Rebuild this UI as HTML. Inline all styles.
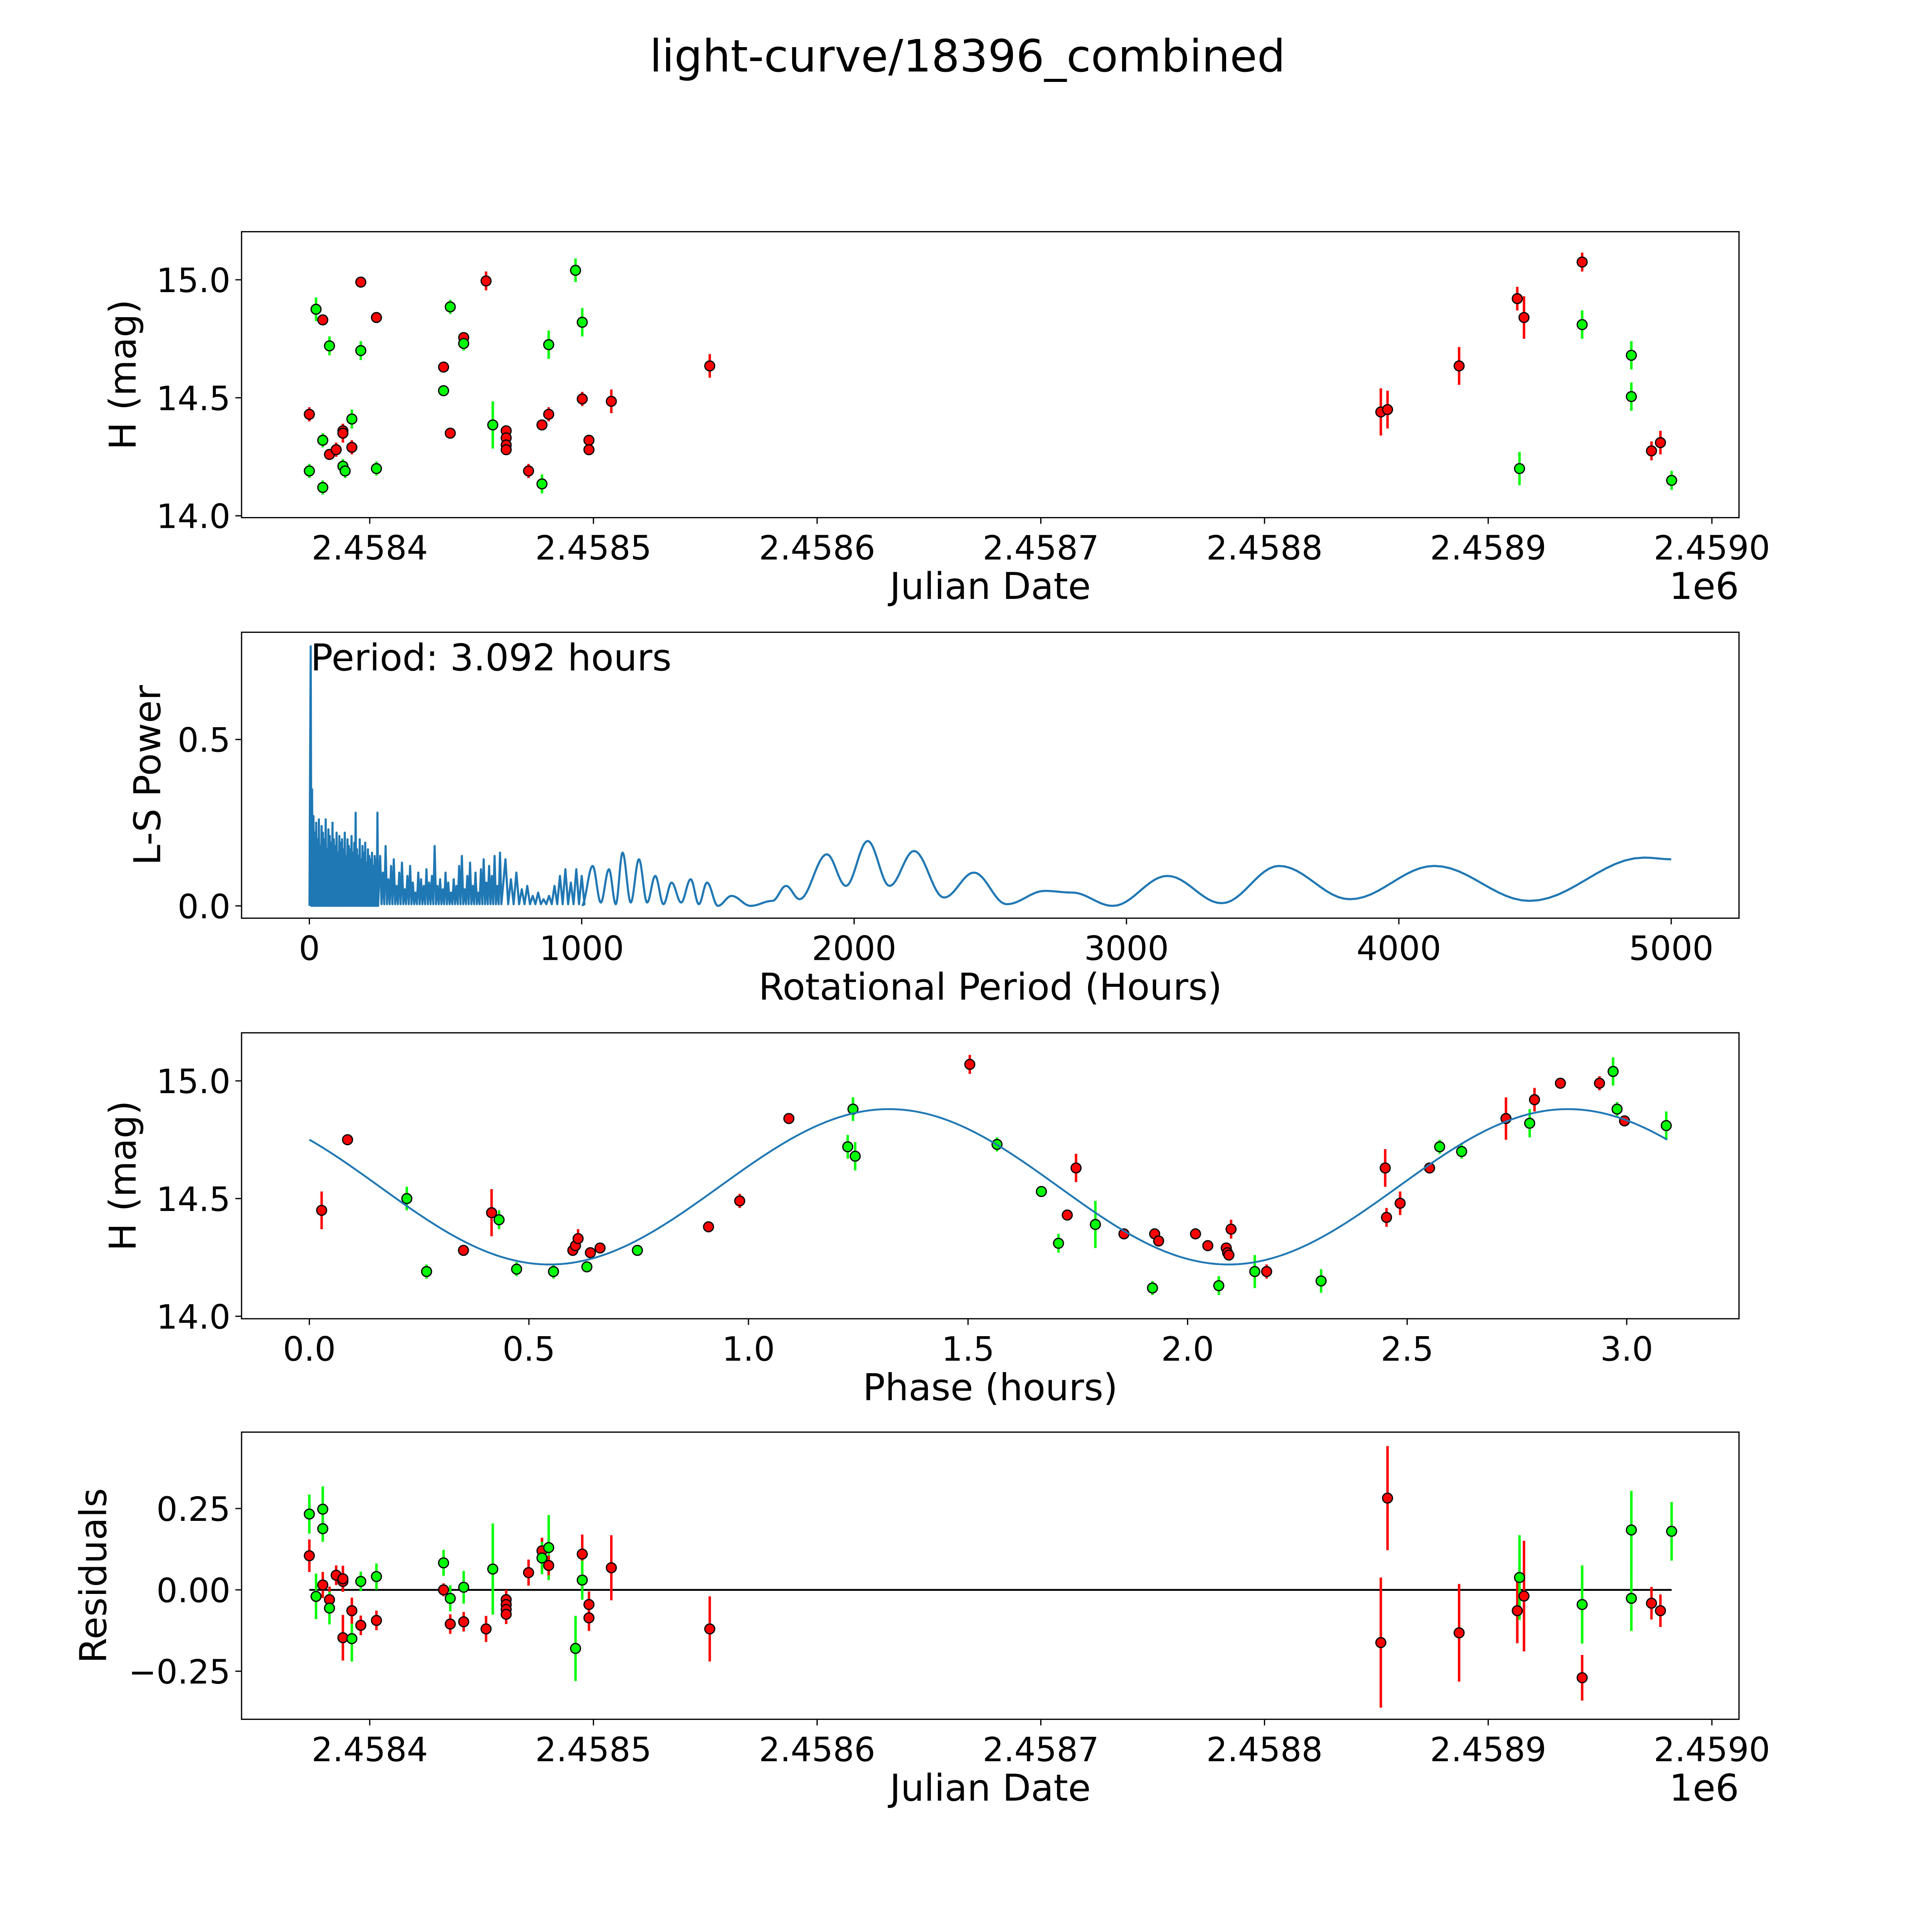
<!DOCTYPE html>
<html><head><meta charset="utf-8"><style>
html,body{margin:0;padding:0;background:#fff;overflow:hidden;width:5400px;height:5400px;}
svg{display:block;font-family:"DejaVu Sans","Liberation Sans",sans-serif;}
</style></head><body>
<svg id="fig" width="5400" height="5400" viewBox="0 0 1693 1693" xmlns="http://www.w3.org/2000/svg">
<rect x="0" y="0" width="1693" height="1693" fill="#fff"/>
<text x="785" y="58" font-size="36" text-anchor="middle">light-curve/18396_combined</text>
</svg>
<script>
// ---------- Light curve data (JD, H mag, error, filter colour) ----------
const lcJD=[2458373,2458373,2458376,2458379,2458379,2458379,2458382,2458382,2458385,2458388,2458388,2458388,2458389,2458392,2458392,2458396,2458396,2458403,2458403,2458433,2458433,2458436,2458436,2458442,2458442,2458452,2458455,2458461,2458461,2458461,2458461,2458471,2458477,2458477,2458480,2458480,2458492,2458495,2458495,2458498,2458498,2458508,2458552,2458852,2458855,2458887,2458913,2458914,2458916,2458942,2458942,2458964,2458964,2458973,2458977,2458982];
const lcMag=[14.43,14.19,14.875,14.83,14.32,14.12,14.72,14.26,14.28,14.36,14.35,14.21,14.19,14.41,14.29,14.99,14.70,14.84,14.20,14.63,14.53,14.885,14.35,14.755,14.73,14.995,14.385,14.36,14.33,14.30,14.28,14.19,14.135,14.385,14.43,14.725,15.04,14.82,14.495,14.32,14.28,14.485,14.635,14.44,14.45,14.635,14.92,14.20,14.84,15.075,14.81,14.68,14.505,14.275,14.31,14.15];
const lcErr=[0.03,0.03,0.05,0.02,0.03,0.03,0.04,0.02,0.03,0.03,0.04,0.03,0.03,0.04,0.03,0.02,0.04,0.02,0.03,0.01,0.02,0.03,0.015,0.02,0.03,0.04,0.1,0.02,0.02,0.02,0.02,0.03,0.04,0.02,0.03,0.06,0.05,0.06,0.03,0.02,0.02,0.05,0.05,0.1,0.08,0.08,0.05,0.07,0.09,0.04,0.06,0.06,0.06,0.04,0.05,0.04];
const lcCol=['r','g','g','r','g','g','g','r','r','r','r','g','g','g','r','r','g','r','g','r','g','g','r','r','g','r','g','r','r','r','r','r','g','r','r','g','g','g','r','r','r','r','r','r','r','r','r','g','r','r','g','g','g','r','r','g'];
// ---------- Phased data ----------
const phX=[0.028,0.087,0.222,0.267,0.351,0.415,0.432,0.472,0.556,0.60,0.606,0.612,0.632,0.64,0.662,0.747,0.909,0.98,1.092,1.226,1.238,1.243,1.504,1.566,1.667,1.706,1.726,1.746,1.79,1.855,1.92,1.925,1.934,2.018,2.046,2.071,2.088,2.091,2.094,2.099,2.153,2.18,2.304,2.45,2.453,2.484,2.551,2.574,2.624,2.725,2.779,2.79,2.849,2.938,2.969,2.978,2.995,3.09];
const phMag=[14.45,14.75,14.50,14.19,14.28,14.44,14.41,14.20,14.19,14.28,14.30,14.33,14.21,14.27,14.29,14.28,14.38,14.49,14.84,14.72,14.88,14.68,15.07,14.73,14.53,14.31,14.43,14.63,14.39,14.35,14.12,14.35,14.32,14.35,14.30,14.13,14.29,14.27,14.26,14.37,14.19,14.19,14.15,14.63,14.42,14.48,14.63,14.72,14.70,14.84,14.82,14.92,14.99,14.99,15.04,14.88,14.83,14.81];
const phErr=[0.08,0.02,0.05,0.03,0.02,0.1,0.04,0.03,0.03,0.02,0.02,0.04,0.02,0.02,0.02,0.02,0.02,0.03,0.01,0.05,0.05,0.06,0.04,0.03,0.02,0.04,0.02,0.06,0.1,0.01,0.03,0.02,0.02,0.02,0.02,0.04,0.02,0.02,0.02,0.04,0.07,0.03,0.05,0.08,0.04,0.05,0.01,0.03,0.03,0.09,0.06,0.05,0.02,0.03,0.06,0.03,0.02,0.06];
const phCol=['r','r','g','g','r','r','g','g','g','r','r','r','g','r','r','g','r','r','r','g','g','g','r','g','g','g','r','r','g','r','g','r','r','r','r','g','r','r','r','r','g','r','g','r','r','r','r','g','g','r','g','r','r','r','g','g','r','g'];
// model fit parameters (sinusoid)
const fitMean=14.55, fitAmp=0.33, fitPeak=1.32, fitHalfPeriod=1.546, fitMaxPhase=3.092;
// ---------- Residuals ----------
const rsJD=[2458373,2458373,2458376,2458379,2458379,2458379,2458382,2458382,2458385,2458388,2458388,2458388,2458392,2458392,2458396,2458396,2458403,2458403,2458433,2458433,2458436,2458436,2458442,2458442,2458452,2458455,2458461,2458461,2458461,2458461,2458471,2458477,2458477,2458480,2458480,2458492,2458495,2458495,2458498,2458498,2458508,2458552,2458852,2458855,2458887,2458913,2458914,2458916,2458942,2458942,2458964,2458964,2458973,2458977,2458982];
const rsVal=[0.105,0.233,-0.02,0.248,0.188,0.015,-0.03,-0.056,0.045,0.026,0.034,-0.147,-0.15,-0.064,0.026,-0.109,0.041,-0.094,0.083,0.0,-0.026,-0.105,0.008,-0.098,-0.12,0.064,-0.03,-0.045,-0.06,-0.075,0.053,0.12,0.098,0.13,0.075,-0.18,0.11,0.03,-0.045,-0.086,0.068,-0.12,-0.162,0.282,-0.132,-0.064,0.038,-0.019,-0.27,-0.045,0.184,-0.026,-0.041,-0.064,0.18];
const rsErr=[0.05,0.06,0.07,0.07,0.04,0.04,0.04,0.05,0.03,0.03,0.04,0.07,0.07,0.04,0.03,0.03,0.04,0.03,0.04,0.02,0.04,0.03,0.05,0.03,0.04,0.14,0.03,0.03,0.03,0.03,0.04,0.04,0.05,0.1,0.03,0.1,0.06,0.06,0.04,0.04,0.1,0.1,0.2,0.16,0.15,0.1,0.13,0.17,0.07,0.12,0.12,0.1,0.05,0.05,0.09];
const rsCol=['r','g','g','g','g','r','r','g','r','r','r','r','g','r','g','r','g','r','g','r','g','r','g','r','r','g','r','r','r','r','r','r','g','g','r','g','r','g','r','r','r','r','r','r','r','r','g','r','r','g','g','g','r','r','g'];
// ---------- Periodogram ----------
const spikeHours1=[5,10,15,20,25,30,35,40,45,50,55,60,65,70,75,80,85,90,95,100,105,110,115,120,125,130,135,140,145,150,155,160,165,170,175,180,185,190,195,200,205,210,215,220,225,230,235,240,245,250];
const spikePow1=[0.78,0.35,0.27,0.22,0.25,0.2,0.26,0.18,0.24,0.22,0.2,0.26,0.17,0.23,0.21,0.19,0.25,0.2,0.18,0.22,0.16,0.21,0.19,0.2,0.17,0.22,0.15,0.2,0.18,0.17,0.21,0.16,0.19,0.28,0.17,0.15,0.2,0.14,0.18,0.16,0.19,0.13,0.17,0.15,0.14,0.16,0.12,0.15,0.14,0.28];
const spikePow2=[0.15,0.1,0.18,0.08,0.12,0.14,0.06,0.1,0.13,0.05,0.09,0.12,0.07,0.04,0.1,0.08,0.06,0.11,0.07,0.09,0.18,0.06,0.08,0.05,0.1,0.07,0.04,0.08,0.06,0.12,0.15,0.05,0.09,0.13,0.06,0.1,0.04,0.11,0.14,0.07,0.12,0.09,0.15,0.06,0.16];
const spikeStart2=260, spikeStep2=10;
const spikePow3=[0.14,0.08,0.1,0.05,0.06,0.03,0.04,0.02,0.03,0.06,0.09,0.11,0.07,0.11,0.09];
const spikeStart3=720, spikeStep3=20;
const smoothHours=[1000,1040,1070,1100,1125,1150,1180,1210,1240,1270,1300,1330,1365,1400,1430,1460,1500,1550,1620,1700,1750,1800,1900,1970,2050,2130,2220,2330,2440,2560,2700,2800,2950,3150,3350,3560,3820,4130,4480,4900,5000];
const smoothPow=[0.0,0.12,0.01,0.11,0.005,0.16,0.01,0.14,0.01,0.09,0.005,0.07,0.01,0.08,0.005,0.07,0.0,0.03,0.0,0.015,0.06,0.02,0.155,0.06,0.195,0.06,0.165,0.025,0.10,0.005,0.045,0.04,0.0,0.09,0.008,0.12,0.02,0.12,0.015,0.145,0.14];

const NS='http://www.w3.org/2000/svg';
const fig=document.getElementById('fig');
function mk(tag,attrs,parent){const e=document.createElementNS(NS,tag);for(const k in attrs)e.setAttribute(k,attrs[k]);(parent||fig).appendChild(e);return e;}
function lin(d0,d1,p0,p1){return v=>p0+(v-d0)*(p1-p0)/(d1-d0);}
const COL={r:'#ff0000',g:'#00ff00'};

function axesFrame(name,L,T,R,B,xt,xfn,xlbls,yt,yfn,ylbls,xlabel,ylabel,ylabX,offset){
  const g=mk('g',{});
  
  
  xt.forEach((v,i)=>{const x=xfn(v);
    const t=mk('line',{x1:x,x2:x,y1:B,y2:B+5,stroke:'#000','stroke-width':1},g);
    
    const l=mk('text',{x:x,y:B+34,'font-size':27,'text-anchor':'middle'},g);l.textContent=xlbls[i];
    });
  yt.forEach((v,i)=>{const y=yfn(v);
    const t=mk('line',{x1:L-5,x2:L,y1:y,y2:y,stroke:'#000','stroke-width':1},g);
    
    const l=mk('text',{x:L-9,y:y+10,'font-size':27,'text-anchor':'end'},g);l.textContent=ylbls[i];
    });
  const xl=mk('text',{x:(L+R)/2,y:B+66,'font-size':30,'text-anchor':'middle'},g);xl.textContent=xlabel;
  
  const cy=(T+B)/2;
  const yl=mk('text',{x:ylabX,y:cy,'font-size':30,'text-anchor':'middle',transform:`rotate(-90 ${ylabX} ${cy})`},g);yl.textContent=ylabel;
  
  if(offset){const o=mk('text',{x:R,y:B+66,'font-size':30,'text-anchor':'end'},g);o.textContent=offset;
    }
  return g;
}
function frameRect(L,T,R,B){const r=mk('rect',{x:L,y:T,width:R-L,height:B-T,fill:'none',stroke:'#000','stroke-width':1});
  }
function errPoints(name,xs,ys,es,cs,xfn,yfn){
  const g=mk('g',{});
  xs.forEach((v,i)=>{const x=xfn(v);
    const b=mk('line',{x1:x,x2:x,y1:yfn(ys[i]-es[i]),y2:yfn(ys[i]+es[i]),stroke:COL[cs[i]],'stroke-width':2},g);
    });
  xs.forEach((v,i)=>{
    const c=mk('circle',{cx:xfn(v),cy:yfn(ys[i]),r:4,fill:COL[cs[i]],stroke:'#000','stroke-width':1},g);
    });
}
const jdT=[2458400,2458500,2458600,2458700,2458800,2458900,2459000];
const jdL=['2.4584','2.4585','2.4586','2.4587','2.4588','2.4589','2.4590'];

// Panel 1
{const L=196,T=188,R=1411,B=420;
 const xf=lin(2458400,2458500,300,481.5), yf=lin(15,14,227,418.5);
 axesFrame('light-curve-axes',L,T,R,B,jdT,xf,jdL,[14,14.5,15],yf,['14.0','14.5','15.0'],'Julian Date','H (mag)',110,'1e6');
 errPoints('light-curve-points',lcJD,lcMag,lcErr,lcCol,xf,yf);
 frameRect(L,T,R,B);}

// Panel 2
{const L=196,T=513,R=1411,B=745;
 const xf=lin(0,1000,251,472), yf=lin(0,0.5,735,600);
 axesFrame('periodogram-axes',L,T,R,B,[0,1000,2000,3000,4000,5000],xf,['0','1000','2000','3000','4000','5000'],[0,0.5],yf,['0.0','0.5'],'Rotational Period (Hours)','L-S Power',130,null);
 const pts=[[0.5,0],[2,0.3]];
 spikeHours1.forEach((h,i)=>{pts.push([h,spikePow1[i]]);pts.push([h+2.5,0]);});
 spikePow2.forEach((p,i)=>{const h=spikeStart2+i*spikeStep2;pts.push([h,p]);pts.push([h+5,0.005]);});
 spikePow3.forEach((p,i)=>{const h=spikeStart3+i*spikeStep3;pts.push([h,p]);pts.push([h+10,0.005]);});
 let d=pts.map((p,i)=>(i?'L':'M')+xf(p[0]).toFixed(2)+' '+yf(p[1]).toFixed(2)).join(' ');
 for(let i=1;i<smoothHours.length;i++){const h0=smoothHours[i-1],h1=smoothHours[i],p0=smoothPow[i-1],p1=smoothPow[i];
   for(let k=1;k<=12;k++){const t=k/12;const h=h0+(h1-h0)*t;const p=p0+(p1-p0)*(1-Math.cos(Math.PI*t))/2;
     d+=' L'+xf(h).toFixed(2)+' '+yf(p).toFixed(2);}}
 const ln=mk('path',{d:d,fill:'none',stroke:'#1f77b4','stroke-width':1.7,'stroke-linejoin':'round'});
 
 const ann=mk('text',{x:252,y:544,'font-size':30});ann.textContent='Period: 3.092 hours';
 
 frameRect(L,T,R,B);}

// Panel 3
{const L=196,T=838,R=1411,B=1070;
 const xf=lin(0,1,251,607.3), yf=lin(15,14,877,1068);
 axesFrame('phase-axes',L,T,R,B,[0,0.5,1,1.5,2,2.5,3],xf,['0.0','0.5','1.0','1.5','2.0','2.5','3.0'],[14,14.5,15],yf,['14.0','14.5','15.0'],'Phase (hours)','H (mag)',110,null);
 errPoints('phase-points',phX,phMag,phErr,phCol,xf,yf);
 let d='';for(let k=0;k<=300;k++){const p=fitMaxPhase*k/300;const m=fitMean+fitAmp*Math.cos(2*Math.PI*(p-fitPeak)/fitHalfPeriod);
   d+=(k?' L':'M')+xf(p).toFixed(2)+' '+yf(m).toFixed(2);}
 const c=mk('path',{d:d,fill:'none',stroke:'#1f77b4','stroke-width':1.5});
 
 frameRect(L,T,R,B);}

// Panel 4
{const L=196,T=1162,R=1411,B=1395;
 const xf=lin(2458400,2458500,300,481.5), yf=lin(0,0.25,1290,1224);
 axesFrame('residuals-axes',L,T,R,B,jdT,xf,jdL,[-0.25,0,0.25],yf,['\u22120.25','0.00','0.25'],'Julian Date','Residuals',86,'1e6');
 const z=mk('line',{x1:xf(2458373),x2:xf(2458982),y1:yf(0),y2:yf(0),stroke:'#000','stroke-width':1.5});
 
 errPoints('residual-points',rsJD,rsVal,rsErr,rsCol,xf,yf);
 frameRect(L,T,R,B);}
</script>
</body></html>
